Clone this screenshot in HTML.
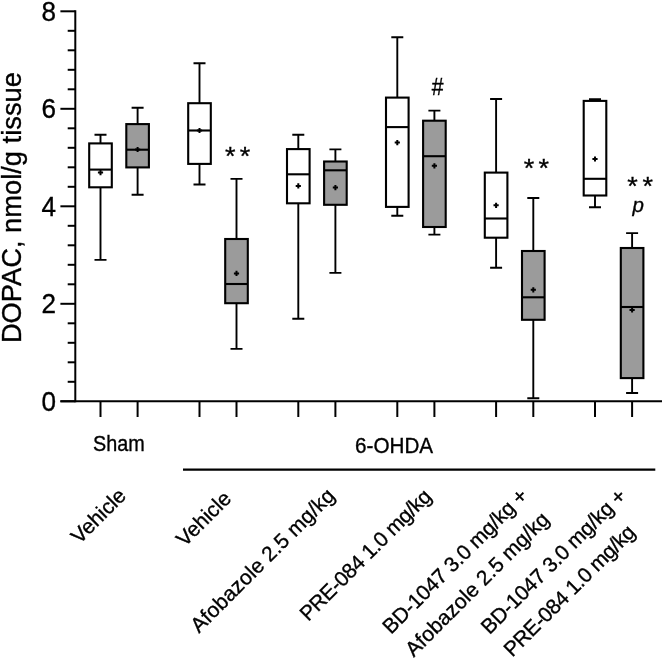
<!DOCTYPE html>
<html><head><meta charset="utf-8"><style>
html,body{margin:0;padding:0;background:#fff;}
svg{display:block;font-family:"Liberation Sans",sans-serif;will-change:transform;}
text{stroke:#000;stroke-width:0.35px;}
</style></head><body>
<svg width="663" height="658" viewBox="0 0 663 658" fill="#000">
<line x1="75.3" y1="10.3" x2="75.3" y2="402.3" stroke="#000" stroke-width="2.0"/>
<line x1="60.4" y1="401.3" x2="662" y2="401.3" stroke="#000" stroke-width="2.0"/>
<line x1="60.4" y1="401.30" x2="75.3" y2="401.30" stroke="#000" stroke-width="2.0"/>
<line x1="67.7" y1="381.80" x2="75.3" y2="381.80" stroke="#000" stroke-width="2.0"/>
<line x1="67.7" y1="362.30" x2="75.3" y2="362.30" stroke="#000" stroke-width="2.0"/>
<line x1="67.7" y1="342.80" x2="75.3" y2="342.80" stroke="#000" stroke-width="2.0"/>
<line x1="67.7" y1="323.30" x2="75.3" y2="323.30" stroke="#000" stroke-width="2.0"/>
<line x1="60.4" y1="303.80" x2="75.3" y2="303.80" stroke="#000" stroke-width="2.0"/>
<line x1="67.7" y1="284.30" x2="75.3" y2="284.30" stroke="#000" stroke-width="2.0"/>
<line x1="67.7" y1="264.80" x2="75.3" y2="264.80" stroke="#000" stroke-width="2.0"/>
<line x1="67.7" y1="245.30" x2="75.3" y2="245.30" stroke="#000" stroke-width="2.0"/>
<line x1="67.7" y1="225.80" x2="75.3" y2="225.80" stroke="#000" stroke-width="2.0"/>
<line x1="60.4" y1="206.30" x2="75.3" y2="206.30" stroke="#000" stroke-width="2.0"/>
<line x1="67.7" y1="186.80" x2="75.3" y2="186.80" stroke="#000" stroke-width="2.0"/>
<line x1="67.7" y1="167.30" x2="75.3" y2="167.30" stroke="#000" stroke-width="2.0"/>
<line x1="67.7" y1="147.80" x2="75.3" y2="147.80" stroke="#000" stroke-width="2.0"/>
<line x1="67.7" y1="128.30" x2="75.3" y2="128.30" stroke="#000" stroke-width="2.0"/>
<line x1="60.4" y1="108.80" x2="75.3" y2="108.80" stroke="#000" stroke-width="2.0"/>
<line x1="67.7" y1="89.30" x2="75.3" y2="89.30" stroke="#000" stroke-width="2.0"/>
<line x1="67.7" y1="69.80" x2="75.3" y2="69.80" stroke="#000" stroke-width="2.0"/>
<line x1="67.7" y1="50.30" x2="75.3" y2="50.30" stroke="#000" stroke-width="2.0"/>
<line x1="67.7" y1="30.80" x2="75.3" y2="30.80" stroke="#000" stroke-width="2.0"/>
<line x1="60.4" y1="11.30" x2="75.3" y2="11.30" stroke="#000" stroke-width="2.0"/>
<text transform="translate(56.0 410.90) scale(0.95 1)" text-anchor="end" font-size="27.5">0</text>
<text transform="translate(56.0 313.40) scale(0.95 1)" text-anchor="end" font-size="27.5">2</text>
<text transform="translate(56.0 215.90) scale(0.95 1)" text-anchor="end" font-size="27.5">4</text>
<text transform="translate(56.0 118.40) scale(0.95 1)" text-anchor="end" font-size="27.5">6</text>
<text transform="translate(56.0 20.90) scale(0.95 1)" text-anchor="end" font-size="27.5">8</text>
<line x1="100.5" y1="401.3" x2="100.5" y2="417" stroke="#000" stroke-width="2.0"/>
<line x1="137.6" y1="401.3" x2="137.6" y2="417" stroke="#000" stroke-width="2.0"/>
<line x1="199.5" y1="401.3" x2="199.5" y2="417" stroke="#000" stroke-width="2.0"/>
<line x1="236.5" y1="401.3" x2="236.5" y2="417" stroke="#000" stroke-width="2.0"/>
<line x1="298.3" y1="401.3" x2="298.3" y2="417" stroke="#000" stroke-width="2.0"/>
<line x1="335.4" y1="401.3" x2="335.4" y2="417" stroke="#000" stroke-width="2.0"/>
<line x1="397.3" y1="401.3" x2="397.3" y2="417" stroke="#000" stroke-width="2.0"/>
<line x1="434.4" y1="401.3" x2="434.4" y2="417" stroke="#000" stroke-width="2.0"/>
<line x1="496.1" y1="401.3" x2="496.1" y2="417" stroke="#000" stroke-width="2.0"/>
<line x1="533.3" y1="401.3" x2="533.3" y2="417" stroke="#000" stroke-width="2.0"/>
<line x1="595.0" y1="401.3" x2="595.0" y2="417" stroke="#000" stroke-width="2.0"/>
<line x1="632.1" y1="401.3" x2="632.1" y2="417" stroke="#000" stroke-width="2.0"/>
<path d="M100.5 134.7V259.9M94.5 134.7h12.0M94.5 259.9h12.0" stroke="#000" stroke-width="1.9"/>
<rect x="89.20" y="143.4" width="22.60" height="43.90" fill="#fff" stroke="#000" stroke-width="2.1"/>
<line x1="89.20" y1="169.6" x2="111.80" y2="169.6" stroke="#000" stroke-width="2.1"/>
<path d="M97.90 172.6h5.2M100.5 170.00v5.2" stroke="#000" stroke-width="2"/>
<path d="M137.6 107.8V194.8M131.6 107.8h12.0M131.6 194.8h12.0" stroke="#000" stroke-width="1.9"/>
<rect x="126.30" y="124.1" width="22.60" height="43.30" fill="#9b9b9b" stroke="#000" stroke-width="2.1"/>
<line x1="126.30" y1="149.7" x2="148.90" y2="149.7" stroke="#000" stroke-width="2.1"/>
<path d="M135.00 149.5h5.2M137.6 146.90v5.2" stroke="#000" stroke-width="2"/>
<path d="M199.5 63.3V184.5M193.5 63.3h12.0M193.5 184.5h12.0" stroke="#000" stroke-width="1.9"/>
<rect x="188.20" y="103.2" width="22.60" height="60.70" fill="#fff" stroke="#000" stroke-width="2.1"/>
<line x1="188.20" y1="130.5" x2="210.80" y2="130.5" stroke="#000" stroke-width="2.1"/>
<path d="M196.90 130.5h5.2M199.5 127.90v5.2" stroke="#000" stroke-width="2"/>
<path d="M236.5 178.9V348.9M230.5 178.9h12.0M230.5 348.9h12.0" stroke="#000" stroke-width="1.9"/>
<rect x="225.20" y="239.0" width="22.60" height="64.20" fill="#9b9b9b" stroke="#000" stroke-width="2.1"/>
<line x1="225.20" y1="284.0" x2="247.80" y2="284.0" stroke="#000" stroke-width="2.1"/>
<path d="M233.90 273.4h5.2M236.5 270.80v5.2" stroke="#000" stroke-width="2"/>
<path d="M298.3 134.7V318.8M292.3 134.7h12.0M292.3 318.8h12.0" stroke="#000" stroke-width="1.9"/>
<rect x="287.00" y="149.1" width="22.60" height="54.20" fill="#fff" stroke="#000" stroke-width="2.1"/>
<line x1="287.00" y1="174.3" x2="309.60" y2="174.3" stroke="#000" stroke-width="2.1"/>
<path d="M295.70 185.9h5.2M298.3 183.30v5.2" stroke="#000" stroke-width="2"/>
<path d="M335.4 149.4V272.9M329.4 149.4h12.0M329.4 272.9h12.0" stroke="#000" stroke-width="1.9"/>
<rect x="324.10" y="161.5" width="22.60" height="43.30" fill="#9b9b9b" stroke="#000" stroke-width="2.1"/>
<line x1="324.10" y1="170.3" x2="346.70" y2="170.3" stroke="#000" stroke-width="2.1"/>
<path d="M332.80 187.6h5.2M335.4 185.00v5.2" stroke="#000" stroke-width="2"/>
<path d="M397.3 37.2V215.8M391.3 37.2h12.0M391.3 215.8h12.0" stroke="#000" stroke-width="1.9"/>
<rect x="386.00" y="97.6" width="22.60" height="109.30" fill="#fff" stroke="#000" stroke-width="2.1"/>
<line x1="386.00" y1="127.1" x2="408.60" y2="127.1" stroke="#000" stroke-width="2.1"/>
<path d="M394.70 142.6h5.2M397.3 140.00v5.2" stroke="#000" stroke-width="2"/>
<path d="M434.4 110.6V234.6M428.4 110.6h12.0M428.4 234.6h12.0" stroke="#000" stroke-width="1.9"/>
<rect x="423.10" y="120.7" width="22.60" height="106.30" fill="#9b9b9b" stroke="#000" stroke-width="2.1"/>
<line x1="423.10" y1="156.2" x2="445.70" y2="156.2" stroke="#000" stroke-width="2.1"/>
<path d="M431.80 165.8h5.2M434.4 163.20v5.2" stroke="#000" stroke-width="2"/>
<path d="M496.1 99.0V267.8M490.1 99.0h12.0M490.1 267.8h12.0" stroke="#000" stroke-width="1.9"/>
<rect x="484.80" y="172.6" width="22.60" height="65.10" fill="#fff" stroke="#000" stroke-width="2.1"/>
<line x1="484.80" y1="218.5" x2="507.40" y2="218.5" stroke="#000" stroke-width="2.1"/>
<path d="M493.50 205.3h5.2M496.1 202.70v5.2" stroke="#000" stroke-width="2"/>
<path d="M533.3 198.0V398.3M527.3 198.0h12.0M527.3 398.3h12.0" stroke="#000" stroke-width="1.9"/>
<rect x="522.00" y="251.0" width="22.60" height="68.80" fill="#9b9b9b" stroke="#000" stroke-width="2.1"/>
<line x1="522.00" y1="297.3" x2="544.60" y2="297.3" stroke="#000" stroke-width="2.1"/>
<path d="M530.70 289.8h5.2M533.3 287.20v5.2" stroke="#000" stroke-width="2"/>
<path d="M595.0 99.2V207.3M589.0 99.2h12.0M589.0 207.3h12.0" stroke="#000" stroke-width="1.9"/>
<rect x="583.70" y="100.9" width="22.60" height="94.60" fill="#fff" stroke="#000" stroke-width="2.1"/>
<line x1="583.70" y1="178.8" x2="606.30" y2="178.8" stroke="#000" stroke-width="2.1"/>
<path d="M592.40 159.0h5.2M595.0 156.40v5.2" stroke="#000" stroke-width="2"/>
<path d="M632.1 233.1V393.0M626.1 233.1h12.0M626.1 393.0h12.0" stroke="#000" stroke-width="1.9"/>
<rect x="620.80" y="248.0" width="22.60" height="130.10" fill="#9b9b9b" stroke="#000" stroke-width="2.1"/>
<line x1="620.80" y1="307.0" x2="643.40" y2="307.0" stroke="#000" stroke-width="2.1"/>
<path d="M629.50 310.0h5.2M632.1 307.40v5.2" stroke="#000" stroke-width="2"/>
<text transform="translate(21.2 207.6) rotate(-90)" text-anchor="middle" font-size="27.3">DOPAC, nmol/g tissue</text>
<text transform="translate(225.1 164.9) scale(1 0.93)" font-size="27">*</text>
<text transform="translate(239.7 164.9) scale(1 0.93)" font-size="27">*</text>
<text transform="translate(523.8 176.5) scale(1 0.93)" font-size="27">*</text>
<text transform="translate(538.5 176.5) scale(1 0.93)" font-size="27">*</text>
<text transform="translate(627.2 194.6) scale(1 0.93)" font-size="27">*</text>
<text transform="translate(642.4 194.6) scale(1 0.93)" font-size="27">*</text>
<text transform="translate(431.7 95.0) scale(0.92 1)" font-size="23">#</text>
<text x="632.6" y="211.5" font-size="20.5" font-style="italic">p</text>
<text transform="translate(93.1 450.5) scale(0.90 1)" font-size="22">Sham</text>
<text transform="translate(355 453.2) scale(0.94 1)" font-size="22">6-OHDA</text>
<line x1="183" y1="469.7" x2="655.3" y2="469.7" stroke="#000" stroke-width="2.2"/>
<g transform="translate(79.5 544.75) rotate(-45) scale(1 1.0)"><text x="0" y="0.0" font-size="21">Vehicle</text></g>
<g transform="translate(184.7 547.6) rotate(-45) scale(1 1.0)"><text x="0" y="0.0" font-size="21">Vehicle</text></g>
<g transform="translate(199.1 633.7) rotate(-45) scale(1 1.0)"><text x="0" y="0.0" font-size="21" textLength="193.5" lengthAdjust="spacing">Afobazole 2.5 mg/kg</text></g>
<g transform="translate(308.2 622.1) rotate(-45) scale(1 1.0)"><text x="0" y="0.0" font-size="21" textLength="176.0" lengthAdjust="spacing">PRE-084 1.0 mg/kg</text></g>
<g transform="translate(391.1 635.0) rotate(-45) scale(1 1.0)"><text x="0" y="0.0" font-size="21" textLength="195.0" lengthAdjust="spacing">BD-1047 3.0 mg/kg +</text><text x="0" y="32.0" font-size="21" textLength="193.5" lengthAdjust="spacing">Afobazole 2.5 mg/kg</text></g>
<g transform="translate(489.5 635.2) rotate(-45) scale(1 1.0)"><text x="0" y="0.0" font-size="21" textLength="195.0" lengthAdjust="spacing">BD-1047 3.0 mg/kg +</text><text x="0" y="32.0" font-size="21" textLength="176.0" lengthAdjust="spacing">PRE-084 1.0 mg/kg</text></g>
</svg>
</body></html>
